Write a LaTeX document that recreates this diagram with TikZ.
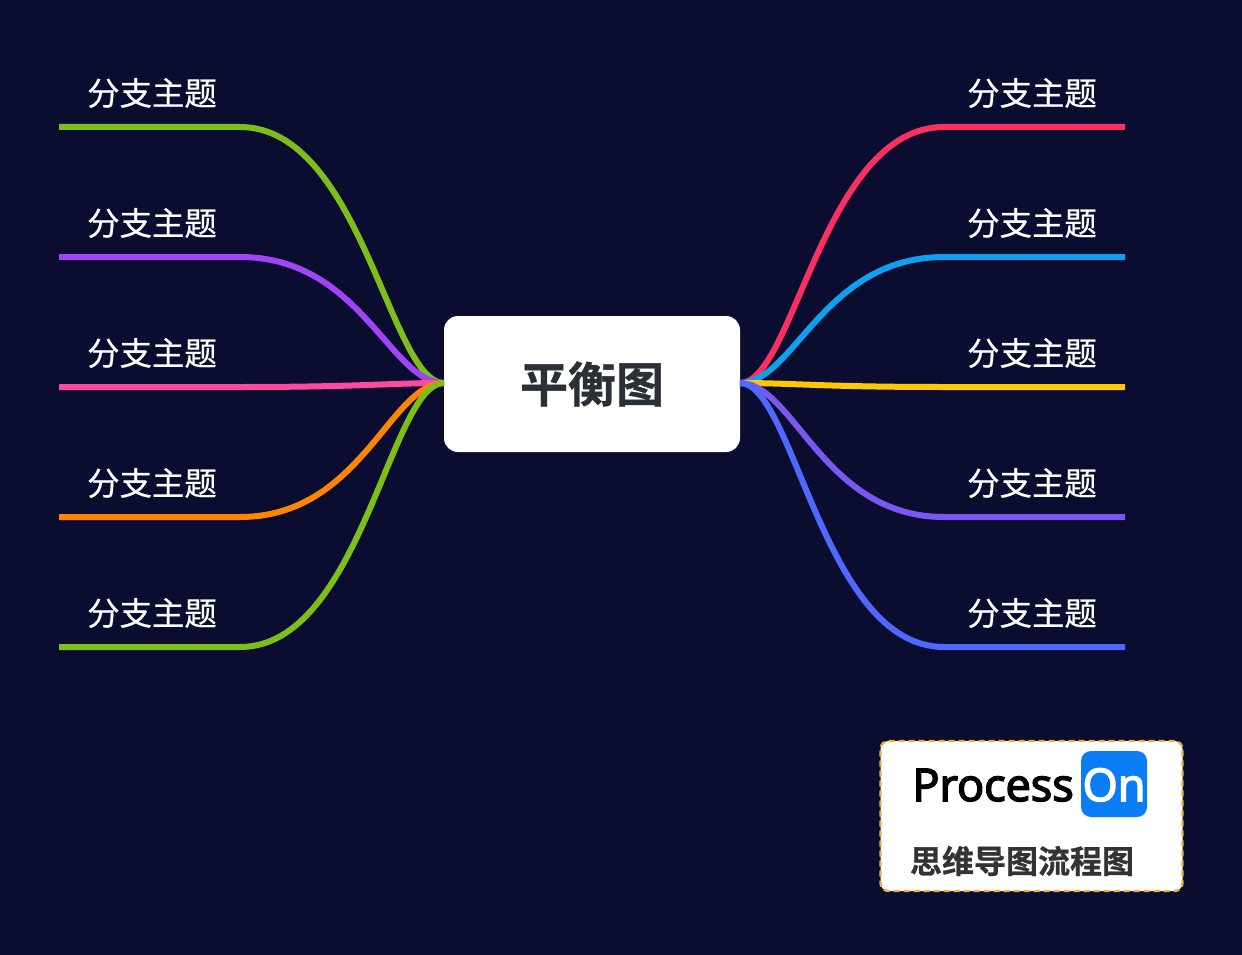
\documentclass[tikz,border=0pt]{standalone}
\usepackage{fontspec}
\newfontfamily\cjk[FakeBold=0.5]{Noto Sans CJK SC}
\newfontfamily\cjkbold[FakeBold=0.8]{Noto Sans CJK SC Bold}
\newfontfamily\logofont[FakeBold=3.5]{Open Sans}
\definecolor{bgdark}{HTML}{0A0D30}
\definecolor{rootink}{HTML}{2B2F36}
\definecolor{sloganink}{HTML}{333333}
\definecolor{logoblue}{HTML}{0A7CF5}
\definecolor{logodash}{HTML}{F0AE3C}
\definecolor{lgreen}{HTML}{7CBF1A}
\definecolor{lpurple}{HTML}{A044F5}
\definecolor{lpink}{HTML}{FD4A9E}
\definecolor{lorange}{HTML}{FF8500}
\definecolor{rred}{HTML}{FB3060}
\definecolor{rblue}{HTML}{0EA0EE}
\definecolor{ryellow}{HTML}{FFC800}
\definecolor{rviolet}{HTML}{7A58F0}
\definecolor{rindigo}{HTML}{4F68FF}
\tikzset{
  branchlabel/.style={text=white,inner sep=0pt,font=\cjk\fontsize{32.4}{32}\selectfont},
  branchline/.style={line width=6pt},
}
\begin{document}
\begin{tikzpicture}[x=1pt,y=-1pt]
  % Bakgrunn
  \fill[bgdark] (0,0) rectangle (1242,955);
  \useasboundingbox (0,0) rectangle (1242,955);
  % Midtnode
  \node[fill=white,rounded corners=14pt,minimum width=296pt,minimum height=136pt,inner sep=0pt,
    text=rootink,font=\cjkbold\fontsize{48}{48}\selectfont] (root) at (592,384) {平衡图};
  \coordinate (rootl) at (444,383);
  \coordinate (rootr) at (740,383);
  % Venstre grener
  \foreach \name/\ypos/\col in {la/127/lgreen,lb/257/lpurple,lc/387/lpink,ld/517/lorange,le/647/lgreen}{
    \node[branchlabel] (\name) at (152,\ypos-34) {分支主题};
    \coordinate (\name end) at (59,\ypos);
    \draw[branchline,\col] (rootl) .. controls (390,383) and (361,\ypos) .. (240,\ypos) -- (\name end);
  }
  % Hoyre grener
  \foreach \name/\ypos/\col in {ra/127/rred,rb/257/rblue,rc/387/ryellow,rd/517/rviolet,re/647/rindigo}{
    \node[branchlabel] (\name) at (1032,\ypos-34) {分支主题};
    \coordinate (\name end) at (1125,\ypos);
    \draw[branchline,\col] (rootr) .. controls (794,383) and (823,\ypos) .. (944,\ypos) -- (\name end);
  }
  % Logo
  \node[fill=white,draw=logodash,line width=2.4pt,dash pattern=on 6pt off 4pt,rounded corners=8pt,
    minimum width=302pt,minimum height=150pt,inner sep=0pt] (logo) at (1031.5,816) {};
  \node[fill=logoblue,rounded corners=10pt,minimum size=66pt,inner sep=0pt] (onbox) at (1114,784) {};
  \node[inner sep=0pt,anchor=base east,text=black,font=\logofont\fontsize{45}{45}\selectfont] (process) at (1074,801) {Process};
  \node[inner sep=0pt,anchor=base,text=white,font=\logofont\fontsize{45}{45}\selectfont] (on) at (1114,801) {On};
  \node[inner sep=0pt,text=sloganink,font=\cjkbold\fontsize{32}{32}\selectfont] (slogan) at (1022,861) {思维导图流程图};
\end{tikzpicture}
\end{document}
